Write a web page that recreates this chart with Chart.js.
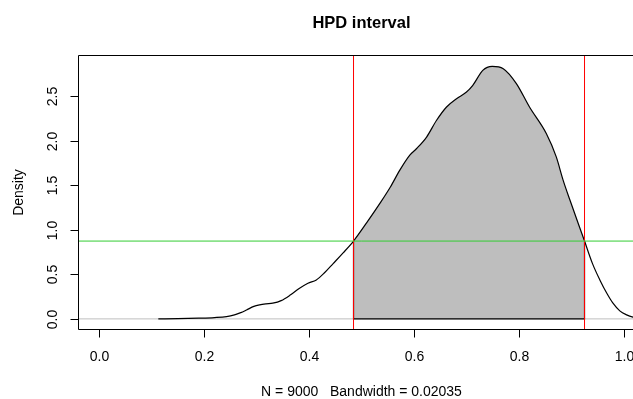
<!DOCTYPE html>
<html><head><meta charset="utf-8">
<script src="https://cdn.jsdelivr.net/npm/chart.js@4"></script>
<style>
html,body{margin:0;padding:0;overflow:hidden;background:#fff;width:633px;height:399px}
#c{position:absolute;left:0;top:0}
</style>
</head><body>
<canvas id="c" width="680" height="399"></canvas>
<script>
// ---- data ----
const densX = [0.113,0.15,0.19,0.22,0.243,0.258,0.27,0.281,0.295,0.306,0.318,0.331,0.347,0.365,0.382,0.398,0.414,0.43,0.446,0.465,0.4848,0.51,0.535,0.555,0.573,0.592,0.605,0.624,0.643,0.662,0.681,0.70,0.712,0.731,0.749,0.77,0.795,0.82,0.852,0.871,0.884,0.897,0.9248,0.94,0.954,0.967,0.979,0.992,1.005,1.017,1.03,1.05];
const densY = [0.000,0.002,0.008,0.015,0.026,0.045,0.07,0.10,0.14,0.157,0.168,0.176,0.205,0.27,0.343,0.40,0.437,0.52,0.62,0.74,0.873,1.08,1.296,1.48,1.669,1.837,1.911,2.04,2.228,2.377,2.47,2.545,2.62,2.788,2.833,2.807,2.64,2.377,2.08,1.817,1.557,1.333,0.873,0.62,0.437,0.29,0.176,0.09,0.045,0.02,0.008,0.002];
const hpdBounds = [0.4848, 0.9248];
const hpdLevel = [0.873];
const xTicks = [0, 0.2, 0.4, 0.6, 0.8, 1.0];
const xTickLabels = ['0.0','0.2','0.4','0.6','0.8','1.0'];
const yTicks = [0, 0.5, 1.0, 1.5, 2.0, 2.5];
const yTickLabels = ['0.0','0.5','1.0','1.5','2.0','2.5'];
const titleText = 'HPD interval';
const xLabelText = 'N = 9000   Bandwidth = 0.02035';
const yLabelText = 'Density';

const X_MIN = -0.04, X_MAX = 1.04, Y_MIN = -0.1134, Y_MAX = 2.949;

const curvePts = densX.map((x,i)=>({x, y: densY[i]}));
const lo = hpdBounds[0], hi = hpdBounds[1];
const inside = curvePts.filter(p => p.x >= lo - 1e-9 && p.x <= hi + 1e-9);
const loY = inside[0].y, hiY = inside[inside.length-1].y;

const FONT = "'Liberation Sans', Arial, Helvetica, sans-serif";

const rAxes = {
  id: 'rAxes',
  afterDraw(chart) {
    const ctx = chart.ctx, a = chart.chartArea;
    const xs = chart.scales.x, ys = chart.scales.y;
    ctx.save();
    ctx.strokeStyle = '#000'; ctx.lineWidth = 1;
    // box
    ctx.beginPath();
    const L = a.left + 0.5, T = a.top - 0.5, R = a.right + 0.5, B = a.bottom + 0.5;
    ctx.moveTo(L, T); ctx.lineTo(R, T); ctx.lineTo(R, B); ctx.lineTo(L, B); ctx.closePath();
    ctx.stroke();
    // x ticks
    ctx.fillStyle = '#000';
    ctx.font = '14px ' + FONT;
    ctx.textAlign = 'center'; ctx.textBaseline = 'alphabetic';
    xTicks.forEach((v,i) => {
      const px = Math.round(xs.getPixelForValue(v)) + 0.5;
      ctx.beginPath(); ctx.moveTo(px, B); ctx.lineTo(px, B + 8); ctx.stroke();
      ctx.fillText(xTickLabels[i], px, 361);
    });
    // y ticks
    yTicks.forEach((v,i) => {
      const py = Math.round(ys.getPixelForValue(v)) + 0.5;
      ctx.beginPath(); ctx.moveTo(L, py); ctx.lineTo(L - 8, py); ctx.stroke();
      ctx.save(); ctx.translate(57, py); ctx.rotate(-Math.PI/2);
      ctx.fillText(yTickLabels[i], 0, 0); ctx.restore();
    });
    const cx = (a.left + a.right) / 2;
    // axis titles
    ctx.fillText(xLabelText, cx, 396);
    ctx.save(); ctx.translate(22.5, (a.top + a.bottom)/2); ctx.rotate(-Math.PI/2);
    ctx.fillText(yLabelText, 0, 0); ctx.restore();
    // main title
    ctx.font = 'bold 16.5px ' + FONT;
    ctx.fillText(titleText, cx, 27.5);
    ctx.restore();
  }
};

const LW = 1.2;
new Chart(document.getElementById('c'), {
  type: 'scatter',
  data: { datasets: [
    { label: 'level', data: [{x:X_MIN,y:hpdLevel[0]},{x:X_MAX,y:hpdLevel[0]}], showLine: true,
      borderColor: '#33cc33', borderWidth: 1, pointRadius: 0, order: 1 },
    { label: 'lower', data: [{x:lo,y:Y_MIN},{x:lo,y:Y_MAX}], showLine: true,
      borderColor: '#ff0000', borderWidth: 1, pointRadius: 0, order: 2 },
    { label: 'upper', data: [{x:hi,y:Y_MIN},{x:hi,y:Y_MAX}], showLine: true,
      borderColor: '#ff0000', borderWidth: 1, pointRadius: 0, order: 2 },
    { label: 'density', data: curvePts, showLine: true, borderColor: '#000', borderWidth: LW,
      pointRadius: 0, cubicInterpolationMode: 'monotone', order: 3 },
    { label: 'edges', data: [{x:lo,y:loY},{x:lo,y:0},{x:hi,y:0},{x:hi,y:hiY}], showLine: true,
      borderColor: '#000', borderWidth: LW, pointRadius: 0, tension: 0, order: 4 },
    { label: 'hpd', data: inside, showLine: true, borderWidth: 0, borderColor: 'rgba(0,0,0,0)',
      backgroundColor: '#bebebe', fill: 'origin', pointRadius: 0, cubicInterpolationMode: 'monotone', order: 5 },
    { label: 'zero', data: [{x:X_MIN,y:0},{x:X_MAX,y:0}], showLine: true,
      borderColor: '#bebebe', borderWidth: 1, pointRadius: 0, order: 6 }
  ]},
  options: {
    responsive: false, animation: false, devicePixelRatio: 1,
    layout: { padding: { left: 78, top: 56, right: 35, bottom: 70 } },
    scales: {
      x: { type: 'linear', min: X_MIN, max: X_MAX, display: false },
      y: { type: 'linear', min: Y_MIN, max: Y_MAX, display: false }
    },
    plugins: { legend: { display: false }, tooltip: { enabled: false }, title: { display: false } },
    events: []
  },
  plugins: [rAxes]
});
</script>
</body></html>
